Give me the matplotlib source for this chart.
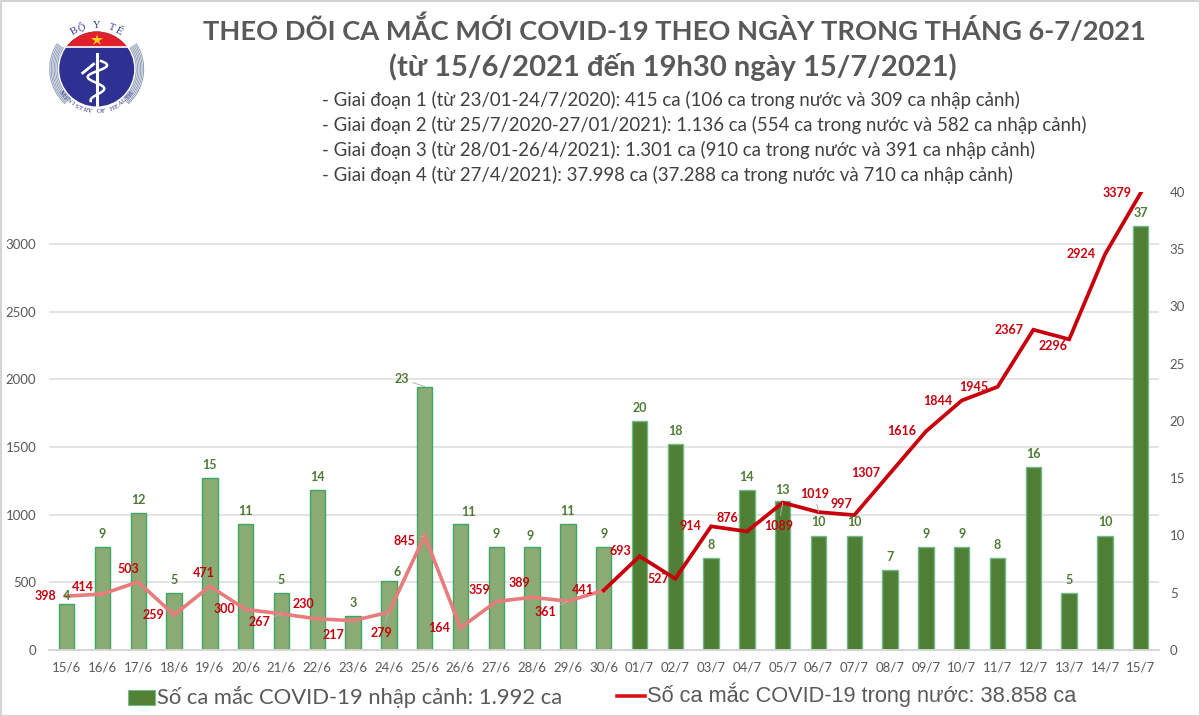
import matplotlib
matplotlib.use("Agg")
import matplotlib.pyplot as plt
import matplotlib.patches as mpatches
import numpy as np

plt.rcParams['font.family'] = ['Lato', 'Noto Sans', 'DejaVu Sans']

W, H = 1200, 716

dates = ["15/6", "16/6", "17/6", "18/6", "19/6", "20/6", "21/6", "22/6", "23/6", "24/6", "25/6",
         "26/6", "27/6", "28/6", "29/6", "30/6", "01/7", "02/7", "03/7", "04/7", "05/7", "06/7",
         "07/7", "08/7", "09/7", "10/7", "11/7", "12/7", "13/7", "14/7", "15/7"]
imported = [4, 9, 12, 5, 15, 11, 5, 14, 3, 6, 23, 11, 9, 9, 11, 9, 20, 18, 8, 14, 13, 10, 10, 7,
            9, 9, 8, 16, 5, 10, 37]
domestic = [398, 414, 503, 259, 471, 300, 267, 230, 217, 279, 845, 164, 359, 389, 361, 441, 693,
            527, 914, 876, 1089, 1019, 997, 1307, 1616, 1844, 1945, 2367, 2296, 2924, 3379]
line_ticks = [0, 500, 1000, 1500, 2000, 2500, 3000]
bar_ticks = [0, 5, 10, 15, 20, 25, 30, 35, 40]

title_lines = ["THEO DÕI CA MẮC MỚI COVID-19 THEO NGÀY TRONG THÁNG 6-7/2021",
               "(từ 15/6/2021 đến 19h30 ngày 15/7/2021)"]
stage_lines = ["- Giai đoạn 1 (từ 23/01-24/7/2020): 415 ca (106 ca trong nước và 309 ca nhập cảnh)",
               "- Giai đoạn 2 (từ 25/7/2020-27/01/2021): 1.136 ca (554 ca trong nước và 582 ca nhập cảnh)",
               "- Giai đoạn 3 (từ 28/01-26/4/2021): 1.301 ca (910 ca trong nước và 391 ca nhập cảnh)",
               "- Giai đoạn 4 (từ 27/4/2021): 37.998 ca (37.288 ca trong nước và 710 ca nhập cảnh)"]
legend_bar = "Số ca mắc COVID-19 nhập cảnh: 1.992 ca"
legend_line = "Số ca mắc COVID-19 trong nước: 38.858 ca"

# label placement in pixels, relative to the point
line_label_off = [(-21, 0), (-20, 7), (-10, 13), (-21, 0), (-6, 13), (-21, 0), (-22, -8), (-14, 15),
                  (-20, -14), (-7, -21), (-20, -5), (-21, 0), (-17, 11), (-13, 14), (-22, -11),
                  (-21, 0), (-19, 5), (-17, 0), (-21, 0), (-20, 13), (-4, -23), (-4, 18), (-13, 11),
                  (-24, 0), (-24, 0), (-24, 0), (-24, 0), (-24, 0), (-16, -7), (-24, 0), (-24, 0)]
bar_label_off = {0: (0, 8), 9: (8, 9), 10: (-23, 8), 11: (8, 12), 13: (-2, 11), 20: (0, 11)}
leaders = {"bar": [10], "line": [6, 9, 10, 14, 20, 21]}

FADED = 16  # first bars and line segments are washed out in the original
GREY = "#595959"
RED = "#c8000c"


def draw_logo(ax, cx, cy):
    # rings left and right of the disc
    for r in [39.5, 41, 42.5, 44, 45.5, 47]:
        ax.add_patch(mpatches.Arc((cx, cy), 2 * r, 2 * r, theta1=-33, theta2=48, color="#8f9bb5", lw=0.7))
        ax.add_patch(mpatches.Arc((cx, cy), 2 * r, 2 * r, theta1=132, theta2=213, color="#8f9bb5", lw=0.7))
    disc = mpatches.Circle((cx, cy), 37.5, color="#2e3192", lw=0)
    ax.add_patch(disc)
    cap = mpatches.Rectangle((cx - 40, cy - 40), 80, 17.5, color="#e0202a", lw=0)
    ax.add_patch(cap)
    cap.set_clip_path(mpatches.Circle((cx, cy), 37.5, transform=ax.transData))
    ax.plot([cx - 31, cx + 31], [cy - 22, cy - 22], color="white", lw=1.2)
    ax.plot([cx], [cy - 29.5], marker="*", ms=9, color="#ffd21f", mew=0)
    # staff, snake and leaf
    ax.plot([cx, cx], [cy - 15, cy + 37], color="white", lw=2.2)
    t = np.linspace(0, 1, 60)
    ax.plot(cx + 11 * np.sin(t * 3.4 * np.pi + 0.4) * (1 - 0.45 * t), cy - 8 + 40 * t, color="white", lw=1.8)
    ax.plot([cx - 14, cx - 3], [cy + 4, cy - 5], color="white", lw=2)
    # curved lettering
    for txt, mid, step, r, flip, size in [("BỘ Y TẾ", 90, 10, 44, False, 7.5),
                                          ("MINISTRY OF HEALTH", 270, 6.4, 42.5, True, 5)]:
        n = len(txt)
        for i, ch in enumerate(txt):
            off = (i - (n - 1) / 2) * step
            a = mid + off if flip else mid - off
            x = cx + r * np.cos(np.radians(a))
            y = cy - r * np.sin(np.radians(a))
            rot = a + 90 if flip else a - 90
            ax.text(x, y, ch, fontsize=size, color="#2e3192", ha="center", va="center",
                    rotation=rot, rotation_mode="anchor", family=["Liberation Serif", "DejaVu Serif"])


fig = plt.figure(figsize=(W / 100, H / 100), dpi=100, facecolor="white")

# full-figure layer in pixel coordinates for the frame, logo and texts
bg = fig.add_axes([0, 0, 1, 1], zorder=0)
bg.set_xlim(0, W)
bg.set_ylim(H, 0)
bg.axis("off")
bg.add_patch(mpatches.Rectangle((0.5, 0.5), W - 1, H - 1, fill=False, ec="#d4d4d4", lw=1.5))
draw_logo(bg, 96.7, 69)

bg.text(674, 29, title_lines[0], fontsize=19.6, fontweight="bold", color=GREY, ha="center", va="center")
bg.text(673, 67, title_lines[1], fontsize=21, fontweight="bold", color=GREY, ha="center", va="center")
for y, s in zip([100, 125, 150, 175], stage_lines):
    bg.text(322, y, s, fontsize=13.45, color="#404040", ha="left", va="center")

# legend
bg.add_patch(mpatches.Rectangle((127.5, 690), 27, 15, fc="#538135", ec="#6fbf8a", lw=0.8))
bg.text(157, 697, legend_bar, fontsize=15.8, color=GREY, ha="left", va="center")
bg.plot([617, 645], [696, 696], color="#d9121a", lw=2.6)
bg.text(647, 695, legend_line, fontsize=15.7, color=GREY, ha="left", va="center", family="Liberation Sans")

# chart
ax_bar = fig.add_axes([48.7 / W, (H - 650) / H, 1110 / W, 458 / H], zorder=1)
ax_line = ax_bar.twinx()
ax_line.set_zorder(2)
ax_bar.patch.set_alpha(0)
ax_line.patch.set_alpha(0)

x = np.arange(len(dates))
line_max = 3385
bar_max = 40

for t in line_ticks[1:]:
    ax_bar.axhline(t * bar_max / line_max, color="#e4e4e4", lw=1.4, zorder=0)

bar_face = ["#8aab73" if i < FADED else "#4f7f35" for i in x]
bar_edge = ["#3fa564" if i < FADED else "#72b98a" for i in x]
ax_bar.bar(x, imported, width=0.43, color=bar_face, edgecolor=bar_edge, linewidth=1, zorder=2)

ax_line.plot(x[:FADED], domestic[:FADED], color="#e87b7b", lw=2.6, solid_joinstyle="miter", zorder=3)
ax_line.plot(x[FADED - 1:], domestic[FADED - 1:], color=RED, lw=2.7, solid_joinstyle="miter", zorder=4)

ax_bar.set_xlim(-0.5, len(dates) - 0.5)
ax_bar.set_ylim(0, bar_max)
ax_line.set_ylim(0, line_max)
ax_bar.set_xticks(x, dates)
ax_bar.set_yticks(bar_ticks)
ax_line.set_yticks(line_ticks)
ax_bar.yaxis.tick_right()
ax_line.yaxis.tick_left()
ax_bar.tick_params(axis="x", length=0, pad=8, labelsize=9.5, labelcolor=GREY)
ax_bar.tick_params(axis="y", length=0, pad=8, labelsize=9.5, labelcolor=GREY)
ax_line.tick_params(axis="y", length=0, pad=9, labelsize=9.5, labelcolor=GREY)
for a in [ax_bar, ax_line]:
    for side in ["top", "left", "right"]:
        a.spines[side].set_visible(False)
    a.spines["bottom"].set_color("#d4d4d4")
    a.spines["bottom"].set_linewidth(1.2)

for i, v in enumerate(imported):
    off = bar_label_off.get(i, (0, 13))
    props = dict(arrowstyle="-", color="#b0b0b0", lw=0.7, shrinkA=1, shrinkB=0) if i in leaders["bar"] else None
    ax_line.annotate(str(v), (i, v * line_max / bar_max), xytext=off, textcoords="offset pixels",
                     ha="center", va="center", fontsize=9, fontweight="bold", color="#4e7a33",
                     arrowprops=props, zorder=6)
for i, v in enumerate(domestic):
    props = dict(arrowstyle="-", color="#b0b0b0", lw=0.7, shrinkA=1, shrinkB=0) if i in leaders["line"] else None
    ax_line.annotate(str(v), (i, v), xytext=line_label_off[i], textcoords="offset pixels",
                     ha="center", va="center", fontsize=9, fontweight="bold", color=RED,
                     arrowprops=props, zorder=7)

fig.savefig("out.png", dpi=100)
